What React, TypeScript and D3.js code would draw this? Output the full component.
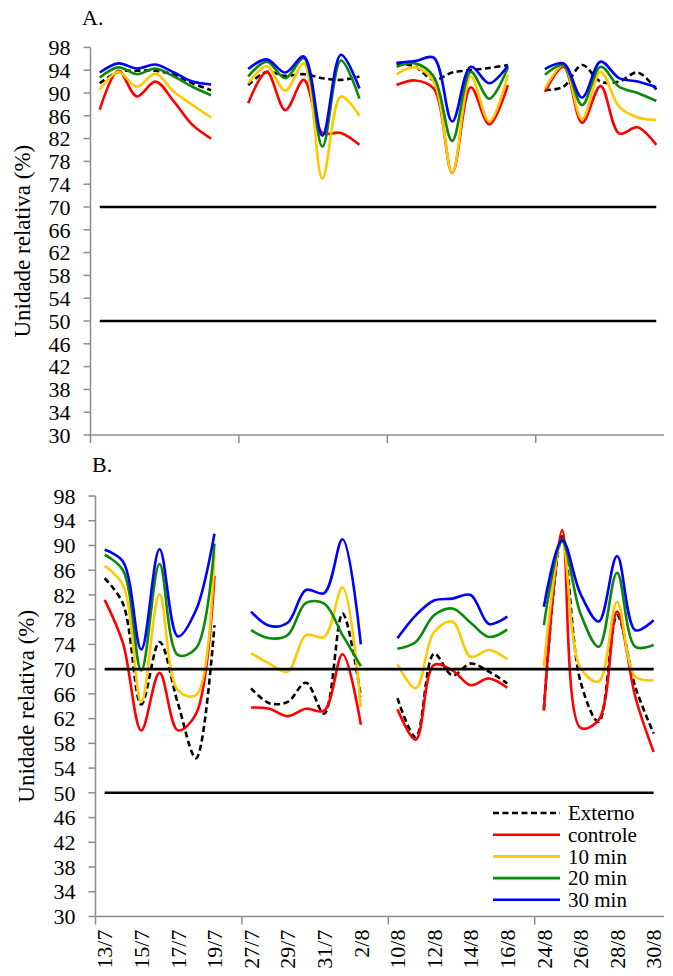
import React from 'react';
import * as d3 from 'd3';

// 4 periods of 7 days each; an empty slot follows each period on the axis
const dates = [
  '13/7', '14/7', '15/7', '16/7', '17/7', '18/7', '19/7',
  '27/7', '28/7', '29/7', '30/7', '31/7', '1/8', '2/8',
  '10/8', '11/8', '12/8', '13/8', '14/8', '15/8', '16/8',
  '24/8', '25/8', '26/8', '27/8', '28/8', '29/8', '30/8',
];
const yTicks = d3.range(30, 99, 4);
const refLines = [70, 50];

// Panel A
const externoA = [91.7, 93.7, 93.9, 93.9, 93.2, 91.7, 90.5, 91.4, 93.7, 93.0, 93.3, 92.6, 92.3, 92.9, 95.2, 94.6, 92.3, 93.6, 94.0, 94.4, 94.9, 90.5, 91.1, 94.9, 92.0, 92.0, 93.6, 90.6];
const controleA = [87.1, 93.9, 89.4, 92.0, 88.5, 84.4, 82.0, 88.2, 93.7, 87.0, 92.3, 83.0, 83.0, 80.9, 91.4, 92.2, 90.8, 76.0, 91.0, 84.5, 91.4, 90.2, 94.6, 84.8, 91.2, 82.9, 84.0, 80.9];
const min10A = [90.6, 93.7, 91.1, 93.4, 90.2, 87.9, 85.7, 91.7, 94.7, 90.4, 95.2, 75.0, 89.4, 86.0, 93.3, 94.5, 92.0, 76.0, 92.9, 85.0, 93.2, 90.8, 94.9, 85.4, 93.7, 87.6, 85.7, 85.3];
const min20A = [92.7, 94.5, 93.3, 94.3, 92.9, 91.1, 89.6, 92.9, 95.5, 92.6, 96.1, 80.6, 95.7, 89.0, 94.6, 95.2, 92.9, 81.6, 93.7, 89.0, 94.5, 93.2, 94.9, 87.9, 94.6, 91.1, 90.0, 88.6];
const min30A = [93.6, 95.2, 94.3, 95.0, 93.6, 92.0, 91.5, 94.2, 95.9, 93.6, 96.4, 82.5, 96.7, 90.8, 95.3, 95.6, 96.2, 85.0, 94.6, 91.7, 94.8, 94.2, 95.2, 89.2, 95.5, 92.6, 92.0, 91.0];

// Panel B
const externoB = [84.7, 80.6, 64.3, 74.4, 64.5, 55.6, 77.1, 66.9, 64.5, 64.7, 67.8, 62.8, 79.0, 65.5, 65.3, 59.0, 72.5, 69.0, 70.9, 69.6, 67.7, 63.5, 91.5, 68.0, 61.5, 78.7, 67.1, 59.6];
const controleB = [81.2, 74.2, 60.1, 69.4, 60.1, 62.8, 85.1, 63.8, 63.6, 62.4, 63.6, 63.3, 72.4, 61.0, 63.5, 58.6, 70.7, 69.8, 67.4, 68.5, 67.0, 63.3, 92.5, 60.5, 61.8, 79.3, 65.5, 56.6];
const min10B = [86.7, 83.6, 64.7, 82.1, 66.6, 65.8, 89.0, 72.6, 70.9, 69.6, 75.5, 75.2, 83.2, 63.9, 70.8, 66.9, 76.0, 77.7, 72.0, 73.1, 71.6, 70.4, 90.9, 70.2, 68.0, 80.9, 68.8, 68.2];
const min20B = [88.5, 86.0, 69.8, 87.0, 72.3, 73.4, 90.3, 76.3, 75.0, 75.5, 80.7, 80.6, 75.5, 70.5, 73.3, 74.4, 78.7, 79.8, 77.5, 75.2, 76.4, 77.1, 90.6, 79.0, 73.6, 85.6, 73.6, 73.9];
const min30B = [89.3, 87.4, 73.2, 89.4, 75.3, 79.6, 91.9, 79.3, 77.0, 77.5, 82.8, 82.3, 91.0, 74.0, 75.0, 78.7, 81.1, 81.4, 82.0, 77.3, 78.5, 80.1, 90.9, 82.2, 77.7, 88.3, 76.3, 77.9];

const seriesNames = ['Externo', 'controle', '10 min', '20 min', '30 min'];
const seriesColors = ['#000000', '#ff0000', '#ffc800', '#0a8a0a', '#0000ff'];

const FONT = '"Liberation Serif", "Times New Roman", serif';
const AXIS = '#8c8c8c';
const DAYS = 7;
const SLOTS = 8;

// category index on the axis (with one empty slot per period)
const slotOf = (k: number) => Math.floor(k / DAYS) * SLOTS + (k % DAYS) + 0.5;

interface PanelProps {
  title: string;
  titleX: number;
  titleY: number;
  x0: number;
  cw: number;
  top: number;
  bottom: number;
  axisEnd: number;
  labelX: number;
  series: number[][];
  showDates?: boolean;
  showLegend?: boolean;
}

const Panel: React.FC<PanelProps> = ({ title, titleX, titleY, x0, cw, top, bottom, axisEnd, labelX, series, showDates, showLegend }) => {
  const x = d3.scaleLinear().domain([0, 32]).range([x0, x0 + 32 * cw]);
  const y = d3.scaleLinear().domain([30, 98]).range([bottom, top]);
  const line = d3.line<[number, number]>()
    .x(d => x(d[0]))
    .y(d => y(d[1]))
    .curve(d3.curveCatmullRom.alpha(0.5));

  const groups = d3.range(dates.length / DAYS);
  const firstX = x(slotOf(0));
  const lastX = x(slotOf(dates.length - 1));
  const midY = (top + bottom) / 2;

  return (
    <g>
      <text x={titleX} y={titleY} fontSize={22} fontFamily={FONT}>{title}</text>

      {/* y axis */}
      <line x1={x0} x2={x0} y1={top} y2={bottom} stroke={AXIS} strokeWidth={1.5} />
      {yTicks.map(t => (
        <g key={t}>
          <line x1={x0 - 7} x2={x0} y1={y(t)} y2={y(t)} stroke={AXIS} strokeWidth={1.5} />
          <text x={x0 - 20} y={y(t)} dy="0.35em" textAnchor="end" fontSize={22} fontFamily={FONT}>{t}</text>
        </g>
      ))}
      <text transform={`translate(${labelX},${midY}) rotate(-90)`} textAnchor="middle" fontSize={23} fontFamily={FONT}>
        Unidade relativa (%)
      </text>

      {/* x axis */}
      <line x1={x0} x2={axisEnd} y1={bottom} y2={bottom} stroke={AXIS} strokeWidth={1.5} />
      {groups.map(g => (
        <line key={g} x1={x(g * SLOTS)} x2={x(g * SLOTS)} y1={bottom} y2={bottom + 8} stroke={AXIS} strokeWidth={1.5} />
      ))}
      {showDates && dates.map((d, k) => (k % DAYS) % 2 === 0 ? (
        <text key={d} transform={`translate(${x(slotOf(k))},${bottom + 13}) rotate(-90)`} dy="0.35em"
          textAnchor="end" fontSize={22} fontFamily={FONT}>{d}</text>
      ) : null)}

      {/* series, one path per period */}
      {series.map((vals, s) => groups.map(g => {
        const pts: [number, number][] = vals.slice(g * DAYS, g * DAYS + DAYS).map((v, i) => [slotOf(g * DAYS + i), v]);
        return (
          <path key={`${s}-${g}`} d={line(pts) || ''} fill="none" stroke={seriesColors[s]}
            strokeWidth={2.6} strokeDasharray={s === 0 ? '6,3.5' : undefined} strokeLinejoin="round" />
        );
      }))}

      {refLines.map(r => (
        <line key={r} x1={firstX} x2={lastX} y1={y(r)} y2={y(r)} stroke="#000" strokeWidth={2.6} />
      ))}

      {showLegend && seriesNames.map((n, s) => (
        <g key={n} transform={`translate(493,${813 + s * 21.7})`}>
          <line x1={0} x2={67} y1={0} y2={0} stroke={seriesColors[s]} strokeWidth={2.6}
            strokeDasharray={s === 0 ? '6,3.5' : undefined} />
          <text x={75} y={0} dy="0.35em" fontSize={21} fontFamily={FONT}>{n}</text>
        </g>
      ))}
    </g>
  );
};

export default function App() {
  return (
    <svg width={673} height={976} style={{ position: 'absolute', left: 0, top: 0, background: '#fff' }}>
      <rect width={673} height={976} fill="#fff" />
      <Panel title="A." titleX={82} titleY={25} x0={90.5} cw={18.55} top={47.4} bottom={435}
        axisEnd={664} labelX={30} series={[externoA, controleA, min10A, min20A, min30A]} />
      <Panel title="B." titleX={92} titleY={472} x0={95.5} cw={18.3} top={496} bottom={916.5}
        axisEnd={664} labelX={34} series={[externoB, controleB, min10B, min20B, min30B]} showDates showLegend />
    </svg>
  );
}
